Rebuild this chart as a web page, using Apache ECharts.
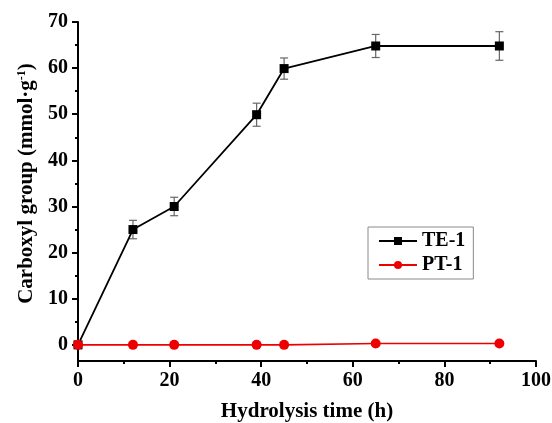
<!DOCTYPE html>
<html>
<head>
<meta charset="utf-8">
<script src="https://cdn.jsdelivr.net/npm/echarts@6/dist/echarts.min.js"></script>
<style>
html,body{margin:0;padding:0;background:#fff;}
#chart{width:552px;height:423px;}
</style>
</head>
<body>
<div id="chart"></div>
<script>
// Data
var teTime = [0, 12, 21, 39, 45, 65, 92];
var teVal  = [0, 25, 30, 49.9, 59.9, 64.8, 64.8];
var teErr  = [0, 2, 2, 2.5, 2.3, 2.5, 3.1];
var ptTime = [0, 12, 21, 39, 45, 65, 92];
var ptVal  = [0, 0, 0, 0, 0, 0.3, 0.3];
var yMajorTicks = [0, 10, 20, 30, 40, 50, 60, 70];
var yMinorTicks = [5, 15, 25, 35, 45, 55, 65];

var FONT = '"Liberation Serif", "Times New Roman", serif';

var teData = teTime.map(function (t, i) { return [t, teVal[i]]; });
var ptData = ptTime.map(function (t, i) { return [t, ptVal[i]]; });
var errData = teTime.map(function (t, i) { return [t, teVal[i] - teErr[i], teVal[i] + teErr[i]]; })
  .filter(function (d, i) { return teErr[i] > 0; });

var chart = echarts.init(document.getElementById('chart'), null, {renderer: 'canvas'});
chart.setOption({
  animation: false,
  backgroundColor: '#fff',
  grid: {left: 78, right: 16, top: 22, bottom: 62, containLabel: false, outerBoundsMode: 'none'},
  legend: {
    orient: 'vertical',
    left: 368, top: 227,
    padding: [4, 8, 4, 10],
    itemGap: 4,
    itemWidth: 38, itemHeight: 10,
    borderColor: '#8a8a8a', borderWidth: 1,
    textStyle: {fontFamily: FONT, fontWeight: 'bold', fontSize: 20, color: '#000'},
    data: ['TE-1', 'PT-1']
  },
  xAxis: {
    type: 'value', min: 0, max: 100, interval: 20,
    name: 'Hydrolysis time (h)', nameLocation: 'middle', nameGap: 40,
    nameTextStyle: {fontFamily: FONT, fontWeight: 'bold', fontSize: 21, color: '#000'},
    axisLine: {show: true, onZero: false, lineStyle: {color: '#000', width: 2}},
    axisTick: {show: true, inside: false, length: 6, lineStyle: {color: '#000', width: 2}},
    minorTick: {show: true, splitNumber: 2, length: 3, lineStyle: {color: '#000', width: 2}},
    axisLabel: {fontFamily: FONT, fontWeight: 'bold', fontSize: 20, color: '#000', margin: 10},
    splitLine: {show: false}
  },
  yAxis: [{
    type: 'value', min: -3.5, max: 70,
    name: 'Carboxyl group (mmol·g{sup|-1})', nameLocation: 'middle', nameGap: 40,
    nameRotate: 90,
    nameTextStyle: {fontFamily: FONT, fontWeight: 'bold', fontSize: 21, color: '#000',
      padding: [0, 0, 0, 16],
      rich: {sup: {fontFamily: FONT, fontWeight: 'bold', fontSize: 12, color: '#000', verticalAlign: 'top', padding: [0, 0, 9, 0]}}},
    axisLine: {show: true, onZero: false, lineStyle: {color: '#000', width: 2}},
    axisTick: {show: true, customValues: yMajorTicks, length: 6, lineStyle: {color: '#000', width: 2}},
    axisLabel: {customValues: yMajorTicks, fontFamily: FONT, fontWeight: 'bold', fontSize: 20, color: '#000', margin: 10},
    splitLine: {show: false}
  }, {
    type: 'value', min: -3.5, max: 70, position: 'left',
    axisLine: {show: false},
    axisTick: {show: true, customValues: yMinorTicks, length: 3, lineStyle: {color: '#000', width: 2}},
    axisLabel: {show: false},
    splitLine: {show: false}
  }],
  series: [{
    name: 'TE-1', type: 'line', data: teData,
    symbol: 'rect', symbolSize: 9,
    itemStyle: {color: '#000'},
    lineStyle: {color: '#000', width: 1.8},
    clip: false, z: 4
  }, {
    name: 'PT-1', type: 'line', data: ptData,
    symbol: 'circle', symbolSize: 10,
    itemStyle: {color: '#ee0000'},
    lineStyle: {color: '#ee0000', width: 1.6},
    clip: false, z: 5
  }, {
    type: 'custom', name: 'err', data: errData, z: 3,
    renderItem: function (params, api) {
      var x = api.value(0);
      var lo = api.coord([x, api.value(1)]);
      var hi = api.coord([x, api.value(2)]);
      var w = 4;
      var st = {stroke: '#666', lineWidth: 1.2};
      return {type: 'group', children: [
        {type: 'line', shape: {x1: lo[0], y1: lo[1], x2: hi[0], y2: hi[1]}, style: st},
        {type: 'line', shape: {x1: lo[0] - w, y1: lo[1], x2: lo[0] + w, y2: lo[1]}, style: st},
        {type: 'line', shape: {x1: hi[0] - w, y1: hi[1], x2: hi[0] + w, y2: hi[1]}, style: st}
      ]};
    }
  }]
});
</script>
</body>
</html>
